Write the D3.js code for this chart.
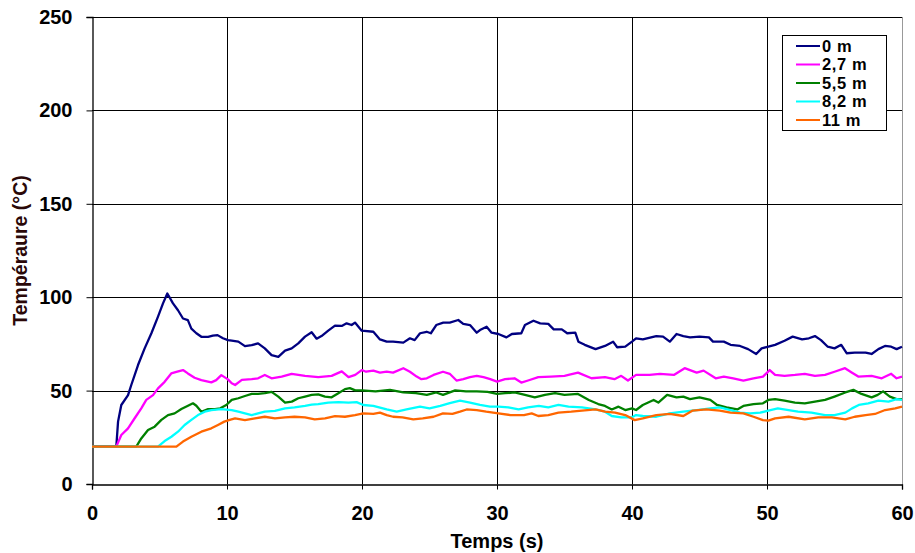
<!DOCTYPE html>
<html><head><meta charset="utf-8">
<script src="https://cdn.jsdelivr.net/npm/d3@7"></script>
<style>body{margin:0;background:#fff}svg{display:block}</style>
</head><body>
<svg id="chart" width="915" height="553"></svg>
<script>
const seriesNames = ["0 m","2,7 m","5,5 m","8,2 m","11 m"];
const seriesColors = ["#000080","#ff00ff","#008000","#00ffff","#ff6600"];
const xTicks = [0,10,20,30,40,50,60];
const yTicks = [0,50,100,150,200,250];
const xLabel = "Temps (s)";
const yLabel = "Tempéraure (°C)";

const s0 = [[0,20],[1.8,20],[1.93,33.4],[2.17,42.3],[2.67,47.6],[2.91,53],[3.41,63.7],[3.9,72.6],[4.4,80.7],[4.89,89.6],[5.26,96.7],[5.58,102],[6,96.7],[6.37,93],[6.74,88.6],[7.1,87.7],[7.36,83.2],[7.73,80.7],[8.1,78.8],[8.6,78.8],[8.95,79.4],[9.3,79.7],[9.7,78],[10.07,77],[10.35,76.7],[10.84,76.2],[11.33,73.8],[11.83,74.3],[12.3,75.3],[12.8,72.6],[13.3,69],[13.8,68.1],[14.3,71.4],[14.79,72.6],[15.28,75.3],[15.78,78.9],[16.27,81.2],[16.64,77.8],[17,79.2],[17.5,82.1],[18,84.8],[18.5,84.6],[18.86,86],[19.23,85.1],[19.48,86.4],[19.98,82.1],[20.84,81.5],[21.33,77.4],[21.83,76.2],[22.3,76.2],[23.06,75.7],[23.55,78],[23.9,77],[24.3,80.7],[24.79,81.5],[25.1,80.7],[25.5,85.1],[26.02,86.4],[26.5,86.4],[27.13,87.8],[27.5,85.7],[28,85.1],[28.5,81],[28.74,82.4],[29.23,84.2],[29.6,81],[30.1,80.3],[30.7,78.5],[31.1,80.3],[31.8,80.7],[32.07,85.1],[32.7,87.4],[33.2,86],[33.8,85.7],[34.2,82.8],[34.8,82.8],[35.2,80.7],[35.8,81],[36.03,76.2],[36.5,74.5],[37.3,72.2],[38,73.9],[38.6,76.2],[38.9,73.2],[39.5,73.5],[40,76.2],[40.3,78],[40.8,77.4],[41.8,79.2],[42.3,78.9],[42.8,76.2],[43.3,80.3],[43.8,79.2],[44.3,78.5],[45,78.9],[45.7,78.5],[46,76.2],[46.8,76.2],[47.3,74.5],[48,73.9],[48.6,72.2],[49.2,69.6],[49.6,72.6],[50.1,73.5],[50.6,74.5],[51.3,76.7],[51.9,78.9],[52.6,77.4],[53.1,78],[53.55,79.2],[54,77],[54.5,73.5],[55,72.6],[55.5,74.5],[55.9,70],[56.5,70.3],[57.3,70.3],[57.75,69.6],[58.25,72.2],[58.74,73.9],[59.2,73.5],[59.6,72.2],[60,73.5]];
const s1 = [[0,20],[1.8,20],[2.17,26.2],[2.67,29.8],[3.16,35.2],[3.65,40.5],[4.02,45],[4.52,47.6],[4.89,51.2],[5.38,54.7],[5.87,59.2],[6.25,60],[6.74,61],[7.1,59.2],[7.6,56.9],[8.1,55.6],[8.84,54.4],[9.2,55.6],[9.58,58.3],[10.07,56],[10.35,53.9],[10.6,53],[11.1,55.7],[11.83,56.1],[12.3,56.6],[12.8,58.4],[13.3,56.6],[14.05,57.5],[14.79,59],[15.78,57.9],[16.76,57.2],[17.75,57.9],[18.5,60.3],[19,57.2],[19.5,58.4],[19.98,61],[20.3,60.1],[20.84,60.7],[21.33,59.6],[21.83,60.1],[22.3,59.6],[23.06,62],[23.55,60.1],[24.05,57.5],[24.4,56.1],[24.8,56.6],[25.3,58.4],[26,60.1],[26.5,59],[27,55.4],[27.5,56.1],[28,57.2],[28.5,57.9],[29,57.2],[29.5,56.1],[30,54.8],[30.6,56.1],[31.3,56.6],[31.8,54.3],[32.3,55.4],[33.06,57.2],[34,57.5],[35,57.9],[35.3,58.4],[36,59.6],[37,56.6],[38,57.2],[38.7,56.1],[39.2,57.9],[39.7,55.4],[40.3,58.4],[41.3,58.4],[42.07,59],[43.1,58.4],[43.9,62],[44.79,59.6],[45.3,60.7],[46.2,56.6],[46.8,57.5],[47.5,56.6],[48.25,55.4],[49,56.6],[49.7,57.5],[50.2,61],[50.6,58.4],[51.3,57.9],[52.07,58.4],[52.8,59],[53.55,57.9],[54.3,58.4],[55,60.1],[55.78,62],[56.3,59.6],[56.76,57.5],[57.75,57.9],[58.5,56.6],[59.2,59],[59.6,56.6],[60,57.5]];
const s2 = [[0,20],[3.28,20],[3.65,24.4],[4.15,28.9],[4.64,30.7],[5.14,34.3],[5.63,36.9],[6.12,37.8],[6.62,40.1],[7.11,41.9],[7.48,43.2],[7.73,41.9],[8.1,38.7],[8.6,40.1],[9.1,40.1],[9.5,40.5],[9.95,42.3],[10.35,45],[10.84,45.9],[11.33,47.1],[11.83,48.2],[12.3,48.2],[12.8,48.6],[13.3,49.3],[13.8,46.8],[14.3,43.6],[14.8,44.1],[15.28,45.9],[15.78,46.8],[16.27,47.7],[16.76,48],[17.26,46.8],[17.75,46.4],[18.25,48.6],[18.74,50.8],[19.1,51.3],[19.5,50.1],[20,50.1],[21,49.6],[22.07,50.4],[23.06,49],[24,48.6],[24.8,47.7],[25.5,49],[26,47.7],[26.9,50.1],[27.7,49.6],[28.5,49.6],[29.3,49.3],[30,48.2],[30.6,48.6],[31.3,49],[32.07,47.7],[32.8,46.4],[33.55,47.7],[34.3,48.6],[35,47.7],[36,48.2],[36.8,45],[37.5,42.8],[38,41.8],[38.5,39.9],[39,41.4],[39.5,39.6],[40,40.5],[40.3,39.6],[40.8,42.3],[41.6,45],[41.95,43.6],[42.6,47.7],[43.3,46.4],[43.8,46.8],[44.3,45.4],[45,46.4],[45.8,45],[46.3,42.3],[47,41],[47.8,39.9],[48.25,41.8],[49,42.8],[49.7,43.2],[50.1,45],[50.6,45.4],[51.3,44.6],[52.07,43.6],[52.8,43.2],[53.55,44.1],[54.3,45],[55,46.8],[55.8,49],[56.4,50.4],[57,48.2],[57.75,46.4],[58.2,47.7],[58.6,49.6],[59.1,46.8],[59.6,45.4],[60,45.4]];
const s3 = [[0,20],[4.89,20],[5.38,23],[5.88,25.3],[6.37,28],[6.86,31.6],[7.36,34.3],[7.85,36.9],[8.35,38.7],[8.84,39.6],[9.58,40.1],[10.35,39.6],[10.84,38.7],[11.33,37.8],[11.83,36.9],[12.3,37.8],[12.8,38.7],[13.55,39.2],[14.3,40.5],[15,41],[15.78,41.8],[16.27,42.5],[16.76,42.8],[17.5,43.6],[18.25,43.8],[19,43.6],[19.6,43.8],[20.1,42.3],[20.84,41.8],[21.83,39.9],[22.57,38.7],[23.3,39.9],[24.3,41.4],[25,40.5],[25.8,41.8],[26.5,43.3],[27.26,44.6],[28,43.6],[28.74,42.3],[29.48,41.4],[30.1,41.4],[30.84,41],[31.6,39.9],[32.3,41],[33.1,41.8],[33.8,41],[34.55,42.3],[35.3,41.4],[36.3,41],[37.3,39.9],[38,38.7],[38.5,36.4],[39.2,35.7],[40,35.7],[40.3,36.9],[40.8,36.4],[41.8,36],[42.8,37.8],[43.8,38.7],[44.8,39.6],[45.8,40.5],[46.5,41],[47.3,39.6],[48,38.2],[48.75,37.8],[49.5,38.2],[50.1,39.3],[50.8,40.5],[51.6,39.6],[52.3,38.7],[53.3,38.2],[54.3,36.9],[55,36.9],[55.8,38.2],[56.3,40.5],[56.8,42.3],[57.5,43.2],[58.25,44.6],[59,44.1],[59.6,45.4],[60,45]];
const s4 = [[0,20],[6.25,20],[6.74,22.7],[7.36,25.3],[8.1,28],[8.84,29.8],[9.33,31.6],[9.8,33.4],[10.2,34.3],[10.6,35.1],[11.33,34.2],[12.07,35.1],[12.8,36],[13.55,35.1],[14.3,35.7],[15,36],[15.78,35.7],[16.5,34.6],[17.26,35.1],[18,36.3],[18.74,36],[19.48,36.9],[20.1,37.8],[20.84,37.5],[21.33,38.2],[21.83,36.9],[22.3,36],[23,35.7],[23.8,34.6],[24.5,35.1],[25.3,36],[26,37.8],[26.7,37.5],[27.26,38.7],[27.75,39.9],[28.5,39.6],[29.2,38.7],[30.1,37.8],[31,36.9],[32,36.9],[32.57,37.8],[33.06,36.4],[33.8,36.9],[34.55,38.2],[35.5,38.7],[36.3,39.3],[37.3,39.9],[38,38.7],[38.75,38.2],[39.5,36.9],[40.2,34.2],[40.8,35.1],[41.8,36.9],[42.8,37.5],[43.8,36.4],[44.5,39.3],[45.5,39.9],[46.5,39.3],[47.3,38.2],[48.25,37.8],[49,36],[49.7,34.2],[50.1,33.9],[50.6,35.1],[51.6,36],[52.8,34.6],[53.8,35.7],[54.8,35.7],[55.8,34.6],[56.5,36],[57.3,36.9],[58,37.5],[58.75,39.6],[59.5,40.5],[60,41.4]];
const seriesData = [s0,s1,s2,s3,s4];

const W = 915, H = 553;
const m = {left:92, right:13, top:17, bottom:69};
const svg = d3.select("#chart");
const FONT = "'Liberation Sans', Arial, sans-serif";

const x = d3.scaleLinear().domain([0,60]).range([m.left, W-m.right]);
const y = d3.scaleLinear().domain([0,250]).range([H-m.bottom, m.top]);

// gridlines
const g = svg.append("g");
g.selectAll("line.h").data(yTicks.filter(d=>d>0)).join("line")
  .attr("x1", x(0)).attr("x2", x(60))
  .attr("y1", d=>Math.round(y(d))+0.5).attr("y2", d=>Math.round(y(d))+0.5)
  .attr("stroke", "#000").attr("stroke-width", 1);
g.selectAll("line.v").data(xTicks.filter(d=>d>0 && d<60)).join("line")
  .attr("y1", y(0)).attr("y2", y(250))
  .attr("x1", d=>Math.round(x(d))+0.5).attr("x2", d=>Math.round(x(d))+0.5)
  .attr("stroke", "#000").attr("stroke-width", 1);
// right border
svg.append("line").attr("x1", Math.round(x(60))+0.5).attr("x2", Math.round(x(60))+0.5)
  .attr("y1", y(250)).attr("y2", y(0)).attr("stroke", "#999").attr("stroke-width",1);

// axes
const xAxis = svg.append("g").attr("transform", `translate(0,${Math.round(y(0))+0.5})`)
  .call(d3.axisBottom(x).tickValues(xTicks).tickSize(5).tickPadding(16).tickFormat(d3.format("d")));
const yAxis = svg.append("g").attr("transform", `translate(${Math.round(x(0))+0.5},0)`)
  .call(d3.axisLeft(y).tickValues(yTicks).tickSize(6).tickPadding(14).tickFormat(d3.format("d")));
[xAxis, yAxis].forEach(a => {
  a.select(".domain").attr("stroke", "#000").attr("stroke-width", 1.3);
  a.selectAll(".tick line").attr("stroke", "#000");
  a.selectAll("text").attr("font-family", FONT).attr("font-weight", "bold")
    .attr("font-size", 20).attr("fill", "#000");
});

// lines
const line = d3.line().x(d=>x(d[0])).y(d=>y(d[1]));
svg.append("g").selectAll("path").data(seriesData).join("path")
  .attr("d", line).attr("fill", "none")
  .attr("stroke", (d,i)=>seriesColors[i]).attr("stroke-width", 2.3)
  .attr("stroke-linejoin", "round");

// axis labels
svg.append("text").attr("x", (x(0)+x(60))/2).attr("y", 548)
  .attr("text-anchor", "middle").attr("font-family", FONT).attr("font-weight", "bold")
  .attr("font-size", 20).text(xLabel);
svg.append("text").attr("transform", `translate(27,${(y(0)+y(250))/2}) rotate(-90)`)
  .attr("text-anchor", "middle").attr("font-family", FONT).attr("font-weight", "bold")
  .attr("fill", "#2a0808").attr("font-size", 19.5).text(yLabel);

// legend
const lg = svg.append("g");
lg.append("rect").attr("x", 782.5).attr("y", 35.5).attr("width", 104).attr("height", 95)
  .attr("fill", "#fff").attr("stroke", "#000").attr("stroke-width", 1);
const ly = d3.scalePoint().domain(seriesNames).range([46, 120]);
const items = lg.selectAll("g.item").data(seriesNames).join("g")
  .attr("transform", d=>`translate(0,${ly(d)})`);
items.append("line").attr("x1", 796).attr("x2", 820).attr("y1", 0).attr("y2", 0)
  .attr("stroke", (d,i)=>seriesColors[i]).attr("stroke-width", 2);
items.append("text").attr("x", 822).attr("y", 0).attr("dy", "0.36em")
  .attr("font-family", FONT).attr("font-weight", "bold").attr("font-size", 16.5)
  .attr("letter-spacing", "0.6px").text(d=>d);
</script>
</body></html>
